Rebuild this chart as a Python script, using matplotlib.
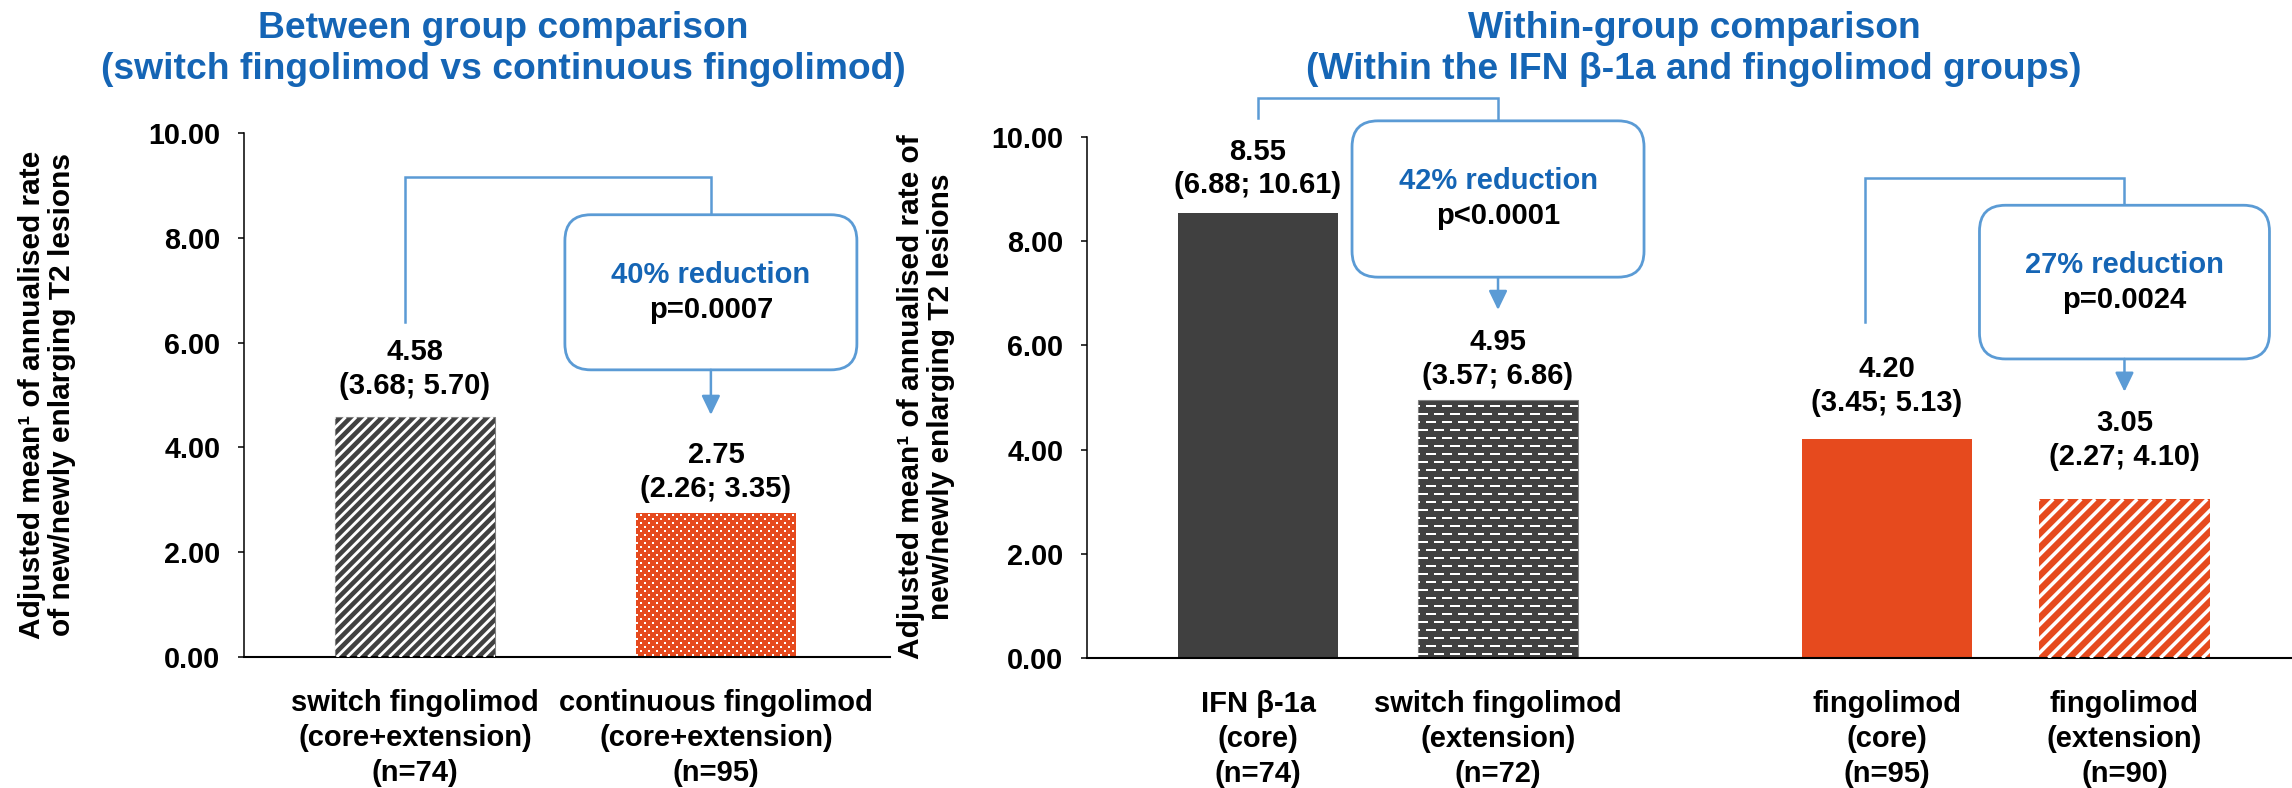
import numpy as np
import matplotlib
matplotlib.use("Agg")
import matplotlib.pyplot as plt
from matplotlib.collections import LineCollection
from matplotlib.patches import FancyBboxPatch, FancyArrowPatch
from matplotlib.ticker import FormatStrFormatter
from matplotlib.transforms import IdentityTransform

plt.rcParams["font.family"] = ["Liberation Sans", "DejaVu Sans"]
plt.rcParams["font.weight"] = "bold"

# ---------------- data ----------------
left_groups = ["switch fingolimod\n(core+extension)\n(n=74)",
               "continuous fingolimod\n(core+extension)\n(n=95)"]
left_means = [4.58, 2.75]
left_ci_low = [3.68, 2.26]
left_ci_high = [5.70, 3.35]

right_groups = ["IFN β-1a\n(core)\n(n=74)",
                "switch fingolimod\n(extension)\n(n=72)",
                "fingolimod\n(core)\n(n=95)",
                "fingolimod\n(extension)\n(n=90)"]
right_means = [8.55, 4.95, 4.20, 3.05]
right_ci_low = [6.88, 3.57, 3.45, 2.27]
right_ci_high = [10.61, 6.86, 5.13, 4.10]

left_reduction = ["40% reduction"]
left_pvalue = ["p=0.0007"]
right_reduction = ["42% reduction", "27% reduction"]
right_pvalue = ["p<0.0001", "p=0.0024"]

# ---------------- style ----------------
GREY = "#404040"
ORANGE = "#E64A1E"
BLUE_TXT = "#1565B5"
BLUE_LINE = "#5B9BD5"
FS = 21

W, H, DPI = 2292, 788, 100
fig = plt.figure(figsize=(W / DPI, H / DPI), dpi=DPI)


def px_axes(x0, x1, y_top, y_bottom):
    return fig.add_axes([x0 / W, 1 - y_bottom / H, (x1 - x0) / W, (y_bottom - y_top) / H])


ax1 = px_axes(244, 890, 133, 657)
ax2 = px_axes(1087, 2292, 137, 658)

left_pos = [0, 1]
right_pos = [0, 1, 2.62, 3.61]
ax1.set_xlim(-0.568, 1.578)
ax2.set_xlim(-0.7125, 4.308)

for ax in (ax1, ax2):
    ax.set_ylim(0, 10)
    ax.set_yticks(np.arange(0, 10.1, 2))
    ax.yaxis.set_major_formatter(FormatStrFormatter("%.2f"))
    ax.spines["top"].set_visible(False)
    ax.spines["right"].set_visible(False)
    ax.spines["left"].set_linewidth(1.1)
    ax.spines["bottom"].set_linewidth(1.5)
    ax.tick_params(axis="y", direction="out", length=4.5, width=1.1, pad=12.5, labelsize=20.7)
    ax.tick_params(axis="x", length=0, pad=23, labelsize=FS)
    for lab in ax.get_yticklabels():
        lab.set_fontweight("bold")

bars1 = ax1.bar(left_pos, left_means, width=0.53, color=[GREY, ORANGE], zorder=2)
bars2 = ax2.bar(right_pos, right_means, width=[0.67, 0.67, 0.71, 0.71],
                color=[GREY, GREY, ORANGE, ORANGE], zorder=2)
bars1[0].set_edgecolor("#808080")
bars1[0].set_linewidth(0.8)
bars2[1].set_edgecolor("#808080")
bars2[1].set_linewidth(0.8)

ax1.set_xticks(left_pos, left_groups, fontweight="bold")
ax2.set_xticks(right_pos, right_groups, fontweight="bold")
for ax in (ax1, ax2):
    for lab in ax.get_xticklabels():
        lab.set_linespacing(1.32)


# ---------------- bar textures (drawn in pixels, clipped to bar) ----------------
def bar_box(ax, bar):
    (x0, y0), (x1, y1) = ax.transData.transform([(bar.get_x(), 0),
                                                 (bar.get_x() + bar.get_width(), bar.get_height())])
    return x0, y0, x1, y1


def add_texture(ax, bar, segs, lw_px):
    lc = LineCollection(segs, colors="white", linewidths=lw_px * 72 / DPI,
                        transform=IdentityTransform(), zorder=3, capstyle="butt")
    ax.add_collection(lc, autolim=False)
    lc.set_clip_path(bar)   # after add_collection, otherwise the axes patch replaces it


def stripes(ax, bar, period, white):
    x0, y0, x1, y1 = bar_box(ax, bar)
    h = y1 - y0
    segs = [[(c, y0), (c + h, y1)] for c in np.arange(x0 - h, x1 + period, period)]
    add_texture(ax, bar, segs, white / np.sqrt(2))


def dashes(ax, bar, row_step, dash, gap, offset, thick):
    x0, y0, x1, y1 = bar_box(ax, bar)
    segs = []
    for i, y in enumerate(np.arange(y0 + row_step / 2, y1, row_step)):
        start = x0 - (dash + gap) + (offset if i % 2 else 0)
        for xs in np.arange(start, x1, dash + gap):
            segs.append([(xs, y), (xs + dash, y)])
    add_texture(ax, bar, segs, thick)


stripes(ax1, bars1[0], 10.5, 4.0)
dashes(ax1, bars1[1], 4, 2, 6, 4, 2)
dashes(ax2, bars2[1], 8, 10, 6, 8, 2)
stripes(ax2, bars2[3], 14, 5.0)

# ---------------- value labels ----------------
left_gap = [48, 41]
right_gap = [44, 41, 53, 59]
for ax, pos, means, lo, hi, gaps in [(ax1, left_pos, left_means, left_ci_low, left_ci_high, left_gap),
                                      (ax2, right_pos, right_means, right_ci_low, right_ci_high, right_gap)]:
    for x, m, l, u, g in zip(pos, means, lo, hi, gaps):
        ax.annotate(f"{m:.2f}\n({l:.2f}; {u:.2f})", (x, m), xytext=(0, g * 72 / DPI),
                    textcoords="offset points", ha="center", va="center",
                    fontsize=FS, fontweight="bold", linespacing=1.25)


# ---------------- comparison brackets ----------------
def comparison(ax, xa, xb, y_start, y_top, box_top, box_bottom, tip, box_w_px, reduction, pval):
    ax.plot([xa, xa, xb, xb], [y_start, y_top, y_top, box_top], color=BLUE_LINE, lw=1.8,
            clip_on=False, solid_joinstyle="miter", zorder=4)
    xr = np.diff(ax.get_xlim())[0] / (ax.bbox.width)
    yr = np.diff(ax.get_ylim())[0] / (ax.bbox.height)
    bw = box_w_px * xr
    box = FancyBboxPatch((xb - bw / 2, box_bottom), bw, box_top - box_bottom,
                         boxstyle=f"round,pad=0,rounding_size={26 * xr}",
                         mutation_aspect=yr / xr, facecolor="white", edgecolor=BLUE_LINE,
                         lw=2.0, clip_on=False, zorder=5)
    ax.add_patch(box)
    arrow = FancyArrowPatch((xb, box_bottom), (xb, tip),
                            arrowstyle="-|>,head_length=0.58,head_width=0.28",
                            mutation_scale=20, color=BLUE_LINE, lw=1.8,
                            shrinkA=0, shrinkB=0, clip_on=False, zorder=5)
    ax.add_patch(arrow)
    yc = (box_top + box_bottom) / 2
    ax.annotate(reduction, (xb, yc), xytext=(0, 17.5 * 72 / DPI), textcoords="offset points",
                ha="center", va="center", color=BLUE_TXT, fontsize=21, fontweight="bold", zorder=6)
    ax.annotate(pval, (xb, yc), xytext=(0, -17.5 * 72 / DPI), textcoords="offset points",
                ha="center", va="center", color="black", fontsize=21, fontweight="bold", zorder=6)


comparison(ax1, left_pos[0] - 0.033, left_pos[1] - 0.017, 6.39, 9.16, 8.44, 5.48, 4.62, 292,
           left_reduction[0], left_pvalue[0])
comparison(ax2, right_pos[0], right_pos[1], 10.36, 10.75, 10.31, 7.31, 6.68, 292,
           right_reduction[0], right_pvalue[0])
comparison(ax2, right_pos[2] - 0.09, right_pos[3], 6.45, 9.21, 8.69, 5.74, 5.11, 290,
           right_reduction[1], right_pvalue[1])

# ---------------- titles and axis labels ----------------
fig.text(503 / W, 1 - 49 / H, "Between group comparison\n(switch fingolimod vs continuous fingolimod)",
         ha="center", va="center", color=BLUE_TXT, fontsize=26.8, fontweight="bold", linespacing=1.2)
fig.text(1694 / W, 1 - 49 / H, "Within-group comparison\n(Within the IFN β-1a and fingolimod groups)",
         ha="center", va="center", color=BLUE_TXT, fontsize=26.8, fontweight="bold", linespacing=1.2)

fig.text(47 / W, 1 - 395 / H, "Adjusted mean¹ of annualised rate\nof new/newly enlarging T2 lesions",
         rotation=90, ha="center", va="center", fontsize=21.5, fontweight="bold", linespacing=1.05)
fig.text(926 / W, 1 - 397 / H, "Adjusted mean¹ of annualised rate of\nnew/newly enlarging T2 lesions",
         rotation=90, ha="center", va="center", fontsize=21.5, fontweight="bold", linespacing=1.05)

fig.savefig("out.png", dpi=DPI)
